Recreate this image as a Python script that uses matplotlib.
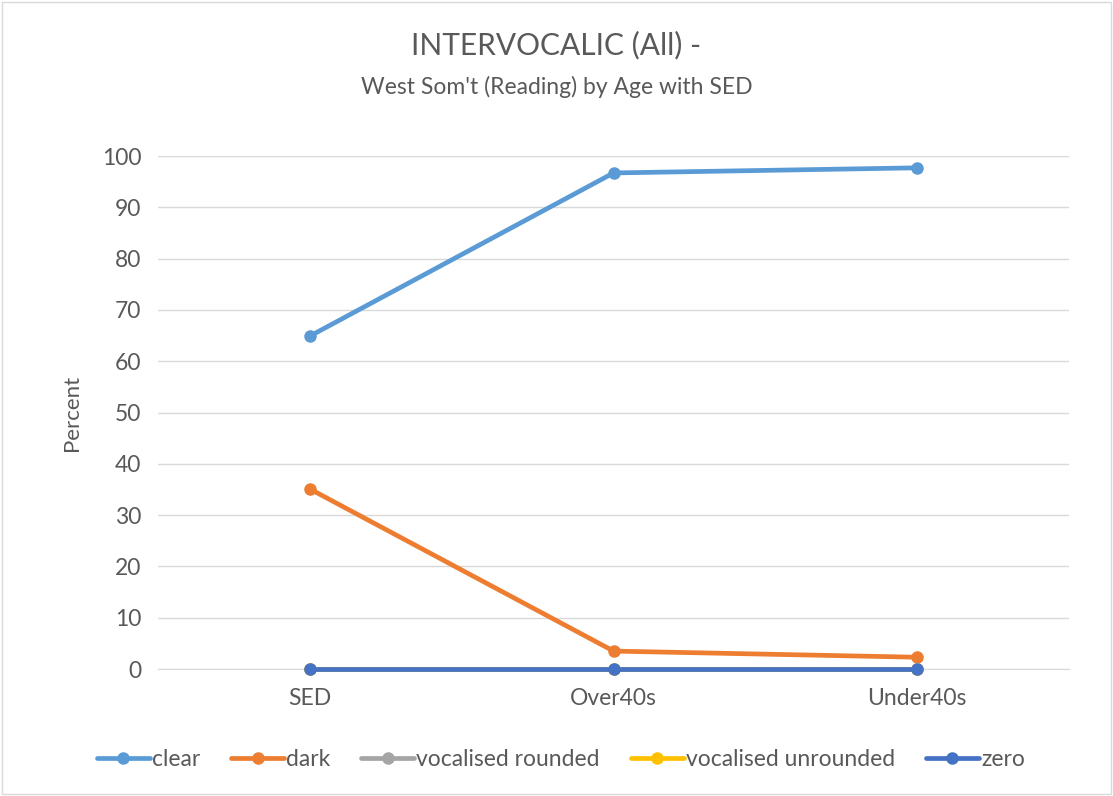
import matplotlib
matplotlib.use("Agg")
import matplotlib.pyplot as plt
from matplotlib.patches import Rectangle

plt.rcParams["font.family"] = ["Lato", "DejaVu Sans"]

groups = ["SED", "Over40s", "Under40s"]
clear = [64.9, 96.7, 97.7]
dark = [35.1, 3.5, 2.3]
vocalised_rounded = [0, 0, 0]
vocalised_unrounded = [0, 0, 0]
zero = [0, 0, 0]

series = [
    ("clear", clear, "#5b9bd5"),
    ("dark", dark, "#ed7d31"),
    ("vocalised rounded", vocalised_rounded, "#a5a5a5"),
    ("vocalised unrounded", vocalised_unrounded, "#ffc000"),
    ("zero", zero, "#4472c4"),
]

text_col = "#595959"

fig = plt.figure(figsize=(11.13, 7.96), dpi=100)
fig.patch.set_facecolor("white")
fig.add_artist(Rectangle((0.002, 0.002), 0.996, 0.996, transform=fig.transFigure,
                         fill=False, edgecolor="#d9d9d9", linewidth=1))

ax = fig.add_axes([0.142, 0.1595, 0.8185, 0.6445])
x = list(range(len(groups)))
for name, vals, col in series:
    ax.plot(x, vals, color=col, linewidth=3.4, marker="o", markersize=8,
            label=name, solid_capstyle="round", clip_on=False, zorder=3)

ax.set_xlim(-0.5, len(groups) - 0.5)
ax.set_ylim(0, 100)
ax.set_yticks(range(0, 101, 10))
ax.set_xticks(x)
ax.set_xticklabels(groups)
ax.grid(axis="y", color="#d9d9d9", linewidth=1)
ax.set_axisbelow(True)
for s in ["top", "right", "left"]:
    ax.spines[s].set_visible(False)
ax.spines["bottom"].set_color("#d9d9d9")
ax.spines["bottom"].set_zorder(1)
ax.tick_params(length=0, colors=text_col, labelsize=16.5, pad=12)
ax.tick_params(axis="x", pad=14)
ax.set_ylabel("Percent", fontsize=16, color=text_col, labelpad=14)

fig.text(0.5, 0.943, "INTERVOCALIC (All) -", ha="center", va="center",
         fontsize=21.5, color=text_col)
fig.text(0.5, 0.891, "West Som't (Reading) by Age with SED", ha="center",
         va="center", fontsize=16.5, color=text_col)

leg = fig.legend(loc="center", bbox_to_anchor=(0.504, 0.046), ncol=5, frameon=False,
                 fontsize=16.5, handlelength=2.3, handletextpad=0.1, columnspacing=1.35,
                 labelcolor=text_col)

fig.savefig("out.png", dpi=100, facecolor="white")
